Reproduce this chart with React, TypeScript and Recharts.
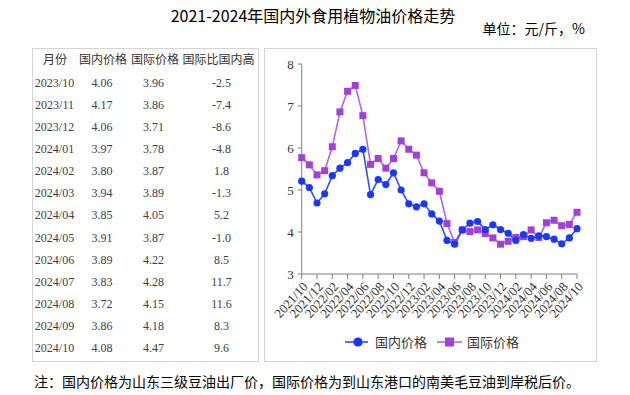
import React from "react";
import { LineChart, Line, XAxis, YAxis } from "recharts";

const months = [
  "2021/10", "2021/11", "2021/12", "2022/01", "2022/02", "2022/03", "2022/04", "2022/05", "2022/06",
  "2022/07", "2022/08", "2022/09", "2022/10", "2022/11", "2022/12", "2023/01", "2023/02", "2023/03",
  "2023/04", "2023/05", "2023/06", "2023/07", "2023/08", "2023/09", "2023/10", "2023/11", "2023/12",
  "2024/01", "2024/02", "2024/03", "2024/04", "2024/05", "2024/06", "2024/07", "2024/08", "2024/09",
  "2024/10",
];

const domestic = [
  5.21, 5.06, 4.69, 4.91, 5.34, 5.52, 5.65, 5.87, 5.97,
  4.89, 5.25, 5.13, 5.41, 5.0, 4.67, 4.6, 4.67, 4.43,
  4.26, 3.8, 3.71, 4.05, 4.21, 4.25, 4.06, 4.17, 4.06,
  3.97, 3.8, 3.94, 3.85, 3.91, 3.89, 3.83, 3.72, 3.86,
  4.08,
];

const international = [
  5.77, 5.6, 5.36, 5.46, 6.03, 6.86, 7.35, 7.49, 6.77,
  5.61, 5.75, 5.52, 5.75, 6.17, 5.97, 5.83, 5.41, 5.17,
  4.97, 4.2, 3.75, 4.05, 4.01, 4.05, 3.96, 3.86, 3.71,
  3.78, 3.87, 3.89, 4.05, 3.87, 4.22, 4.28, 4.15, 4.18,
  4.47,
];

const tableMonths = ["2023/10", "2023/11", "2023/12", "2024/01", "2024/02", "2024/03", "2024/04", "2024/05", "2024/06", "2024/07", "2024/08", "2024/09", "2024/10"];
const tableDomestic = [4.06, 4.17, 4.06, 3.97, 3.8, 3.94, 3.85, 3.91, 3.89, 3.83, 3.72, 3.86, 4.08];
const tableInternational = [3.96, 3.86, 3.71, 3.78, 3.87, 3.89, 4.05, 3.87, 4.22, 4.28, 4.15, 4.18, 4.47];
const tableDiff = [-2.5, -7.4, -8.6, -4.8, 1.8, -1.3, 5.2, -1.0, 8.5, 11.7, 11.6, 8.3, 9.6];
const tableHeaders = ["月份", "国内价格", "国际价格", "国际比国内高"];

const yTicks = [3, 4, 5, 6, 7, 8];

const title = "2021-2024年国内外食用植物油价格走势";
const unitText = "单位：元/斤，%";
const noteText = "注：国内价格为山东三级豆油出厂价，国际价格为到山东港口的南美毛豆油到岸税后价。";
const seriesNames = ["国内价格", "国际价格"];

const BLUE_LINE = "#2f4dff";
const BLUE_DOT = "#1a37ff";
const PURPLE_LINE = "#b565e3";
const PURPLE_DOT = "#a33fd6";

const data = months.map((m, i) => ({ month: m, domestic: domestic[i], international: international[i] }));

const CJK = '"Noto Sans CJK SC", "Noto Sans", sans-serif';
const SERIF = '"Liberation Serif", "Times New Roman", serif';

const SquareDot = (props: any) => {
  const { cx, cy, index } = props;
  if (cx == null || cy == null) return null;
  return <rect key={`sq-${index}`} x={cx - 3.5} y={cy - 3.5} width={7} height={7} fill={PURPLE_DOT} />;
};

const CircleDot = (props: any) => {
  const { cx, cy, index } = props;
  if (cx == null || cy == null) return null;
  return <circle key={`ci-${index}`} cx={cx} cy={cy} r={3.6} fill={BLUE_DOT} />;
};

const hdrCenters = [55, 103, 155, 218.5];
const colCenters = [54.5, 102, 153.5, 221.5];

export default function App() {
  const rowY = (k: number) => 82.7 + k * 22.13;
  return (
    <div style={{ position: "absolute", left: 0, top: 0, width: 630, height: 395, background: "#fff", overflow: "hidden" }}>
      <div style={{ position: "absolute", left: 0, width: 626, top: 4, textAlign: "center", fontFamily: CJK, fontSize: 16, lineHeight: "22px", color: "#000" }}>
        {title}
      </div>
      <div style={{ position: "absolute", right: 45, top: 18, fontFamily: CJK, fontSize: 14, lineHeight: "20px", color: "#000" }}>
        {unitText}
      </div>

      {/* table box */}
      <div style={{ position: "absolute", left: 32, top: 48, width: 225, height: 312, border: "1px solid #d4d4d4" }} />
      {tableHeaders.map((h, j) => (
        <div key={`h-${j}`} style={{ position: "absolute", left: hdrCenters[j] - 40, width: 80, top: 59 - 10, height: 20, lineHeight: "20px", textAlign: "center", fontFamily: CJK, fontSize: 12, color: "#333" }}>
          {h}
        </div>
      ))}
      {tableMonths.map((m, k) => {
        const cells = [m, tableDomestic[k].toFixed(2), tableInternational[k].toFixed(2), tableDiff[k].toFixed(1)];
        return cells.map((c, j) => (
          <div key={`c-${k}-${j}`} style={{ position: "absolute", left: colCenters[j] - 40, width: 80, top: rowY(k) - 10, height: 20, lineHeight: "20px", textAlign: "center", fontFamily: SERIF, fontSize: 12, color: "#404040" }}>
            {c}
          </div>
        ));
      })}

      {/* chart box */}
      <div style={{ position: "absolute", left: 264, top: 48, width: 331, height: 312, border: "1px solid #d4d4d4" }} />
      <div style={{ position: "absolute", left: 264, top: 48 }}>
        <LineChart width={332} height={300} data={data} margin={{ top: 16, right: 19, left: 7.7, bottom: 0 }}>
          <XAxis
            dataKey="month"
            interval={1}
            tickSize={5}
            tickMargin={2}
            angle={-48}
            textAnchor="end"
            height={74}
            stroke="#808080"
            tick={{ fontFamily: SERIF, fontSize: 13, fill: "#333" }}
            tickLine={{ stroke: "#808080" }}
            padding={{ left: 0, right: 0 }}
          />
          <YAxis
            domain={[3, 8]}
            ticks={yTicks}
            width={30}
            tickSize={4}
            tickMargin={4}
            stroke="#808080"
            tick={{ fontFamily: SERIF, fontSize: 13, fill: "#333" }}
          />
          <Line dataKey="international" name={seriesNames[1]} stroke={PURPLE_LINE} strokeWidth={1.6} dot={SquareDot} activeDot={false} isAnimationActive={false} type="linear" />
          <Line dataKey="domestic" name={seriesNames[0]} stroke={BLUE_LINE} strokeWidth={1.6} dot={CircleDot} activeDot={false} isAnimationActive={false} type="linear" />
        </LineChart>
      </div>

      {/* legend */}
      <svg style={{ position: "absolute", left: 340, top: 332 }} width={30} height={20}>
        <line x1={5} y1={10} x2={28} y2={10} stroke={BLUE_LINE} strokeWidth={1.6} />
        <circle cx={18} cy={10} r={4.6} fill={BLUE_DOT} />
      </svg>
      <div style={{ position: "absolute", left: 375, top: 332, lineHeight: "20px", fontFamily: CJK, fontSize: 13, color: "#333" }}>{seriesNames[0]}</div>
      <svg style={{ position: "absolute", left: 432, top: 332 }} width={32} height={20}>
        <line x1={5} y1={10} x2={30} y2={10} stroke={PURPLE_LINE} strokeWidth={1.6} />
        <rect x={13} y={5.5} width={9} height={9} fill={PURPLE_DOT} />
      </svg>
      <div style={{ position: "absolute", left: 467, top: 332, lineHeight: "20px", fontFamily: CJK, fontSize: 13, color: "#333" }}>{seriesNames[1]}</div>

      <div style={{ position: "absolute", left: 34, top: 371, lineHeight: "20px", fontFamily: CJK, fontSize: 14, color: "#000", whiteSpace: "nowrap" }}>
        {noteText}
      </div>
    </div>
  );
}
